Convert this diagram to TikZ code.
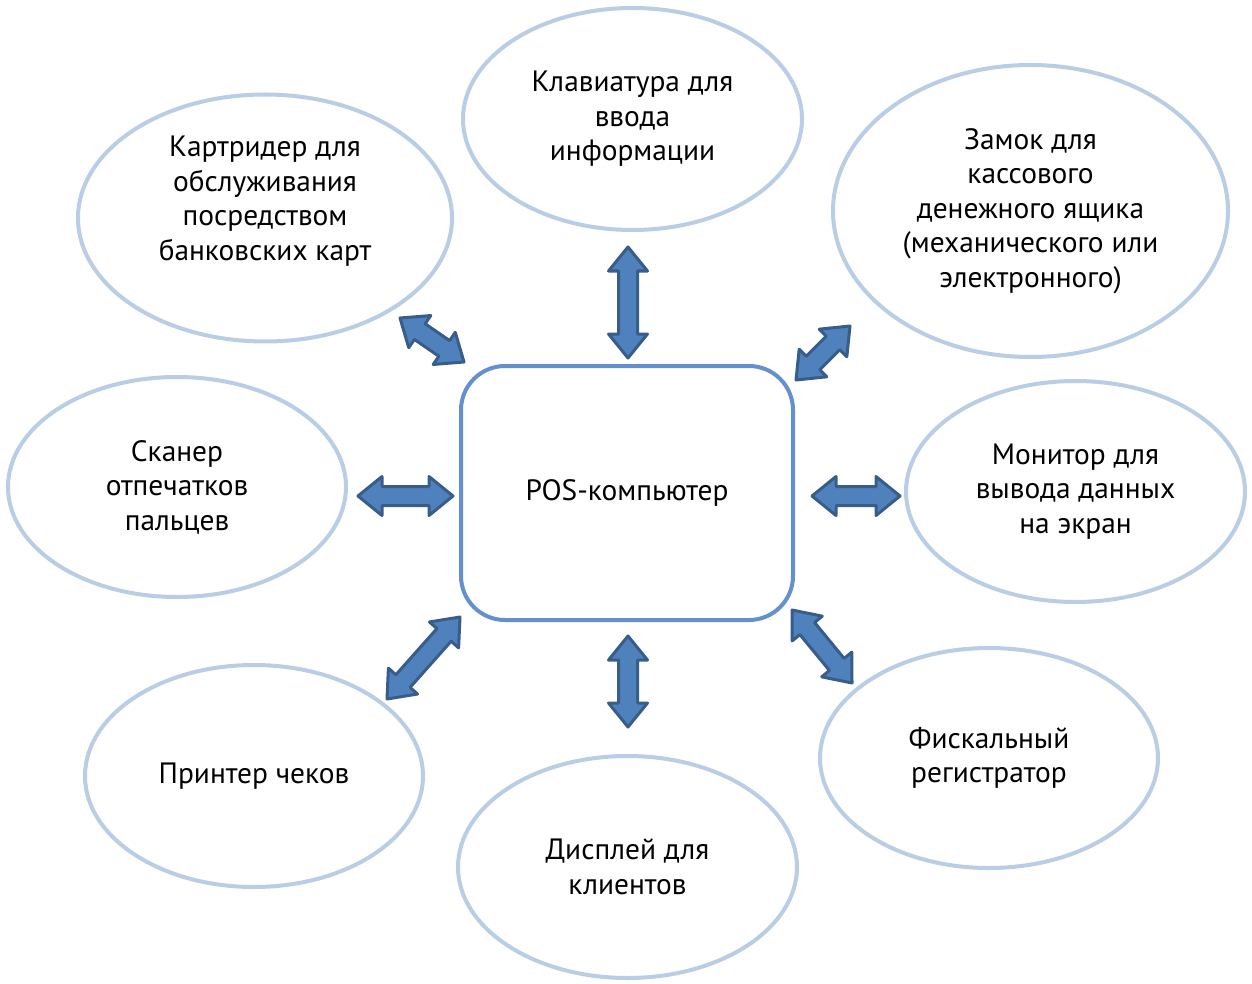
\documentclass[tikz,border=0pt]{standalone}
\usepackage{fontspec}
\setmainfont{PT Sans}
\usetikzlibrary{calc,shapes.geometric}

\definecolor{ringblue}{HTML}{B9CDE5}
\definecolor{boxblue}{HTML}{6491CD}
\definecolor{linkfill}{HTML}{4F81BD}
\definecolor{linkline}{HTML}{385D8A}

% double block arrow between two named coordinates
\newcommand{\duplex}[2]{%
  \filldraw[link] (#1)
    -- ($(#1)!12pt!(#2)!9.75pt!90:(#2)$) -- ($(#1)!12pt!(#2)!4.75pt!90:(#2)$)
    -- ($(#2)!12pt!(#1)!4.75pt!-90:(#1)$) -- ($(#2)!12pt!(#1)!9.75pt!-90:(#1)$)
    -- (#2)
    -- ($(#2)!12pt!(#1)!9.75pt!90:(#1)$) -- ($(#2)!12pt!(#1)!4.75pt!90:(#1)$)
    -- ($(#1)!12pt!(#2)!4.75pt!-90:(#2)$) -- ($(#1)!12pt!(#2)!9.75pt!-90:(#2)$)
    -- cycle;}

\begin{document}
\begin{tikzpicture}[x=0.5pt, y=-0.5pt,
    every node/.style={align=center, font=\fontsize{14.7pt}{17.25pt}\selectfont},
    device/.style={ellipse, draw=ringblue, line width=2pt, inner sep=0pt},
    core/.style={draw=boxblue, line width=2pt, rounded corners=22pt,
                 minimum width=166pt, minimum height=127pt},
    link/.style={fill=linkfill, draw=linkline, line width=1.5pt, line join=round}]
  \useasboundingbox (0,0) rectangle (1252,984);

  \node[core] (pos) at (627,493) {POS-компьютер};

  \node[device, minimum width=187pt, minimum height=123.5pt,
        label={[yshift=8.5pt]center:Картридер для\\обслуживания\\посредством\\банковских карт}]
        (card) at (265,218) {};
  \node[device, minimum width=169.5pt, minimum height=111pt] (keyb) at (632.5,119)
        {Клавиатура для\\ввода\\информации};
  \node[device, minimum width=197.5pt, minimum height=146pt] (lock) at (1030.5,211)
        {Замок для\\кассового\\денежного ящика\\(механического или\\электронного)};
  \node[device, minimum width=169pt, minimum height=110pt] (scan) at (177,487)
        {Сканер\\отпечатков\\пальцев};
  \node[device, minimum width=169.5pt, minimum height=110.5pt] (mon) at (1075.5,491.5)
        {Монитор для\\вывода данных\\на экран};
  \node[device, minimum width=169pt, minimum height=111pt] (prn) at (254,776)
        {Принтер чеков};
  \node[device, minimum width=169.5pt, minimum height=111pt] (disp) at (627.5,867)
        {Дисплей для\\клиентов};
  \node[device, minimum width=169pt, minimum height=110pt] (fisc) at (989,758)
        {Фискальный\\регистратор};

  % arrow ends
  \coordinate (keyb-a) at (628,247);  \coordinate (keyb-b) at (628,358);
  \coordinate (disp-a) at (628,636);  \coordinate (disp-b) at (628,727);
  \coordinate (scan-a) at (358,496);  \coordinate (scan-b) at (453,496);
  \coordinate (mon-a)  at (812,496);  \coordinate (mon-b)  at (900,496);
  \coordinate (card-a) at (400,318);  \coordinate (card-b) at (464,362);
  \coordinate (lock-a) at (850,326);  \coordinate (lock-b) at (796,380);
  \coordinate (prn-a)  at (460,617);  \coordinate (prn-b)  at (387,699);
  \coordinate (fisc-a) at (792,610);  \coordinate (fisc-b) at (852,683);

  \foreach \n in {keyb,disp,scan,mon,card,lock,prn,fisc}
    \duplex{\n-a}{\n-b};
\end{tikzpicture}
\end{document}
